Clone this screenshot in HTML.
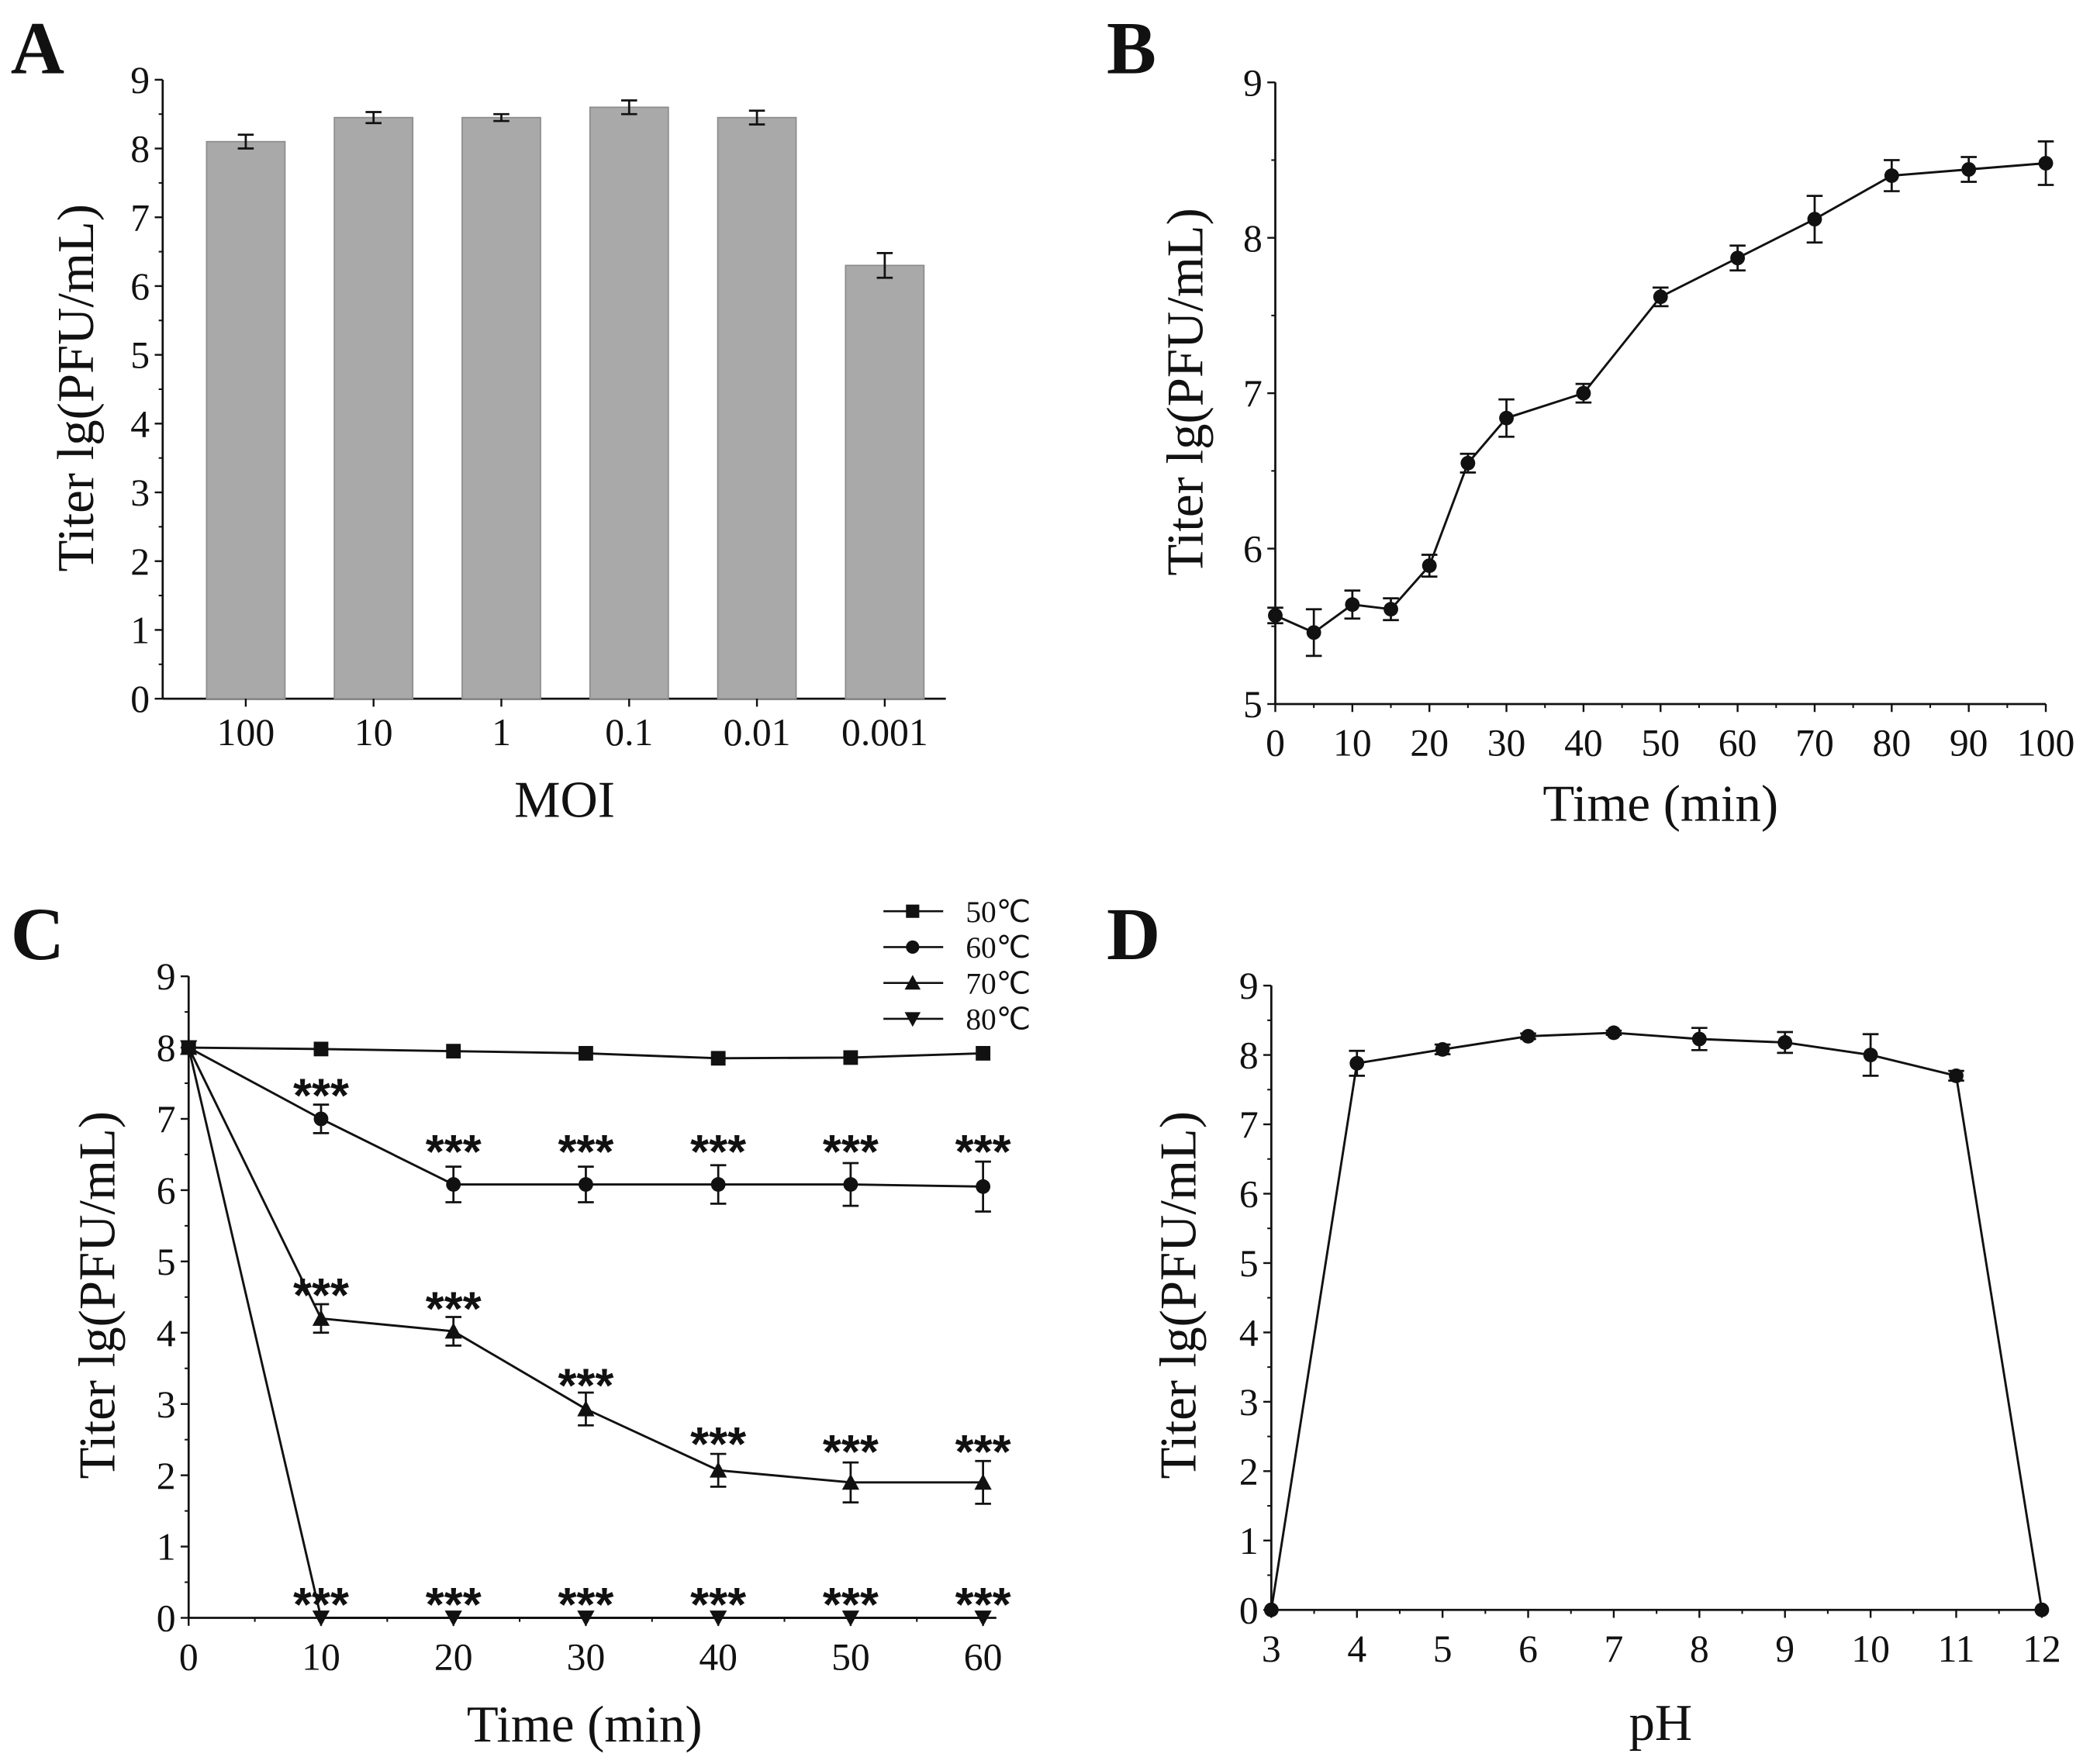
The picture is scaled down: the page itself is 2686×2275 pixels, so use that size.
<!DOCTYPE html>
<html><head><meta charset="utf-8"><style>
html,body{margin:0;padding:0;background:#fff}
svg{display:block}
text{font-family:"Liberation Serif","Times New Roman",serif;fill:#111}
text.star{font-family:"Liberation Sans",sans-serif;font-weight:bold}
</style></head><body>
<svg id="fig" width="2686" height="2275" viewBox="0 0 1568 1328" xmlns="http://www.w3.org/2000/svg">
<rect width="1568" height="1328" fill="#fff"/>
</svg>
<script>
// Panel A data
const aCats=["100","10","1","0.1","0.01","0.001"];
const aVals=[8.1,8.45,8.45,8.6,8.45,6.3];
const aErr=[0.1,0.08,0.05,0.1,0.1,0.18];
// Panel B data
const bX=[0,5,10,15,20,25,30,40,50,60,70,80,90,100];
const bVals=[5.57,5.46,5.64,5.61,5.89,6.55,6.84,7.0,7.62,7.87,8.12,8.4,8.44,8.48];
const bErr=[0.05,0.15,0.09,0.07,0.07,0.06,0.12,0.06,0.06,0.08,0.15,0.1,0.08,0.14];
// Panel C data
const cX=[0,10,20,30,40,50,60];
const c50=[8,7.98,7.95,7.92,7.85,7.86,7.92];
const c60=[8,7.0,6.08,6.08,6.08,6.08,6.05];
const c60Err=[0,0.2,0.25,0.25,0.27,0.3,0.35];
const c70=[8,4.2,4.02,2.93,2.07,1.9,1.9];
const c70Err=[0,0.2,0.2,0.23,0.23,0.28,0.3];
const c80=[8,0,0,0,0,0,0];
const c60Star=[null,7.42,6.63,6.63,6.63,6.63,6.63];
const c70Star=[null,4.62,4.43,3.35,2.53,2.42,2.42];
const c80Star=[null,0.28,0.28,0.28,0.28,0.28,0.28];
// Panel D data
const dX=[3,4,5,6,7,8,9,10,11,12];
const dVals=[0,7.88,8.08,8.27,8.32,8.23,8.18,8.0,7.7,0];
const dErr=[0,0.18,0.07,0.04,0.03,0.16,0.15,0.3,0.07,0];

const NS="http://www.w3.org/2000/svg";
const svg=document.getElementById('fig');
function el(tag,attrs,parent){const e=document.createElementNS(NS,tag);for(const k in attrs)e.setAttribute(k,attrs[k]);(parent||svg).appendChild(e);return e;}
function txt(s,x,y,size,attrs,parent){const t=el('text',Object.assign({x:x,y:y,'font-size':size,'text-anchor':'middle'},attrs||{}),parent);t.textContent=s;return t;}
function lin(x0,x1,p0,p1){return v=>p0+(v-x0)*(p1-p0)/(x1-x0);}

function axes(g,X,Y,cfg){
  el('line',{x1:X(cfg.xmin),y1:Y(cfg.ymin),x2:X(cfg.xmin),y2:Y(cfg.ymax),stroke:'#111','stroke-width':1.6},g);
  el('line',{x1:X(cfg.xmin),y1:Y(cfg.ymin),x2:cfg.xEnd,y2:Y(cfg.ymin),stroke:'#111','stroke-width':1.6},g);
  for(let v=cfg.ymin;v<=cfg.ymax+1e-9;v+=cfg.ystep){
    const t=el('line',{x1:X(cfg.xmin)-6,y1:Y(v),x2:X(cfg.xmin),y2:Y(v),stroke:'#111','stroke-width':1.4},g);
    
    
    const l=txt(String(v),X(cfg.xmin)-17,Y(v)+10,29,{},g);
    
    
    if(v+cfg.ystep/2<=cfg.ymax) el('line',{x1:X(cfg.xmin)-3,y1:Y(v+cfg.ystep/2),x2:X(cfg.xmin),y2:Y(v+cfg.ystep/2),stroke:'#111','stroke-width':1.2},g);
  }
  if(cfg.xticks){
    cfg.xticks.forEach((v,i)=>{
      el('line',{x1:X(v),y1:Y(cfg.ymin),x2:X(v),y2:Y(cfg.ymin)+6,stroke:'#111','stroke-width':1.4},g);
      const l=txt(String(v),X(v),Y(cfg.ymin)+39,29,{},g);
      
      
      if(i<cfg.xticks.length-1){const m=(v+cfg.xticks[i+1])/2;el('line',{x1:X(m),y1:Y(cfg.ymin),x2:X(m),y2:Y(cfg.ymin)+3,stroke:'#111','stroke-width':1.2},g);}
    });
  }
}
function errbar(g,x,y0,y1,w){
  el('line',{x1:x,y1:y0,x2:x,y2:y1,stroke:'#111','stroke-width':1.6},g);
  el('line',{x1:x-w,y1:y0,x2:x+w,y2:y0,stroke:'#111','stroke-width':1.6},g);
  el('line',{x1:x-w,y1:y1,x2:x+w,y2:y1,stroke:'#111','stroke-width':1.6},g);
}
function poly(g,xs,ys,X,Y,name){
  const p=el('polyline',{points:xs.map((x,i)=>X(x)+','+Y(ys[i])).join(' '),fill:'none',stroke:'#111','stroke-width':1.7},g);
  
  
}
function marker(g,type,x,y,s){
  s=s||5.5;
  if(type==='circle') return el('circle',{cx:x,cy:y,r:s,fill:'#111'},g);
  if(type==='square') return el('rect',{x:x-s,y:y-s,width:2*s,height:2*s,fill:'#111'},g);
  if(type==='up') return el('polygon',{points:`${x},${y-s-1} ${x-s-1},${y+s} ${x+s+1},${y+s}`,fill:'#111'},g);
  return el('polygon',{points:`${x},${y+s+1} ${x-s-1},${y-s} ${x+s+1},${y-s}`,fill:'#111'},g);
}
function ylabel(g,x,y){const t=txt('Titer lg(PFU/mL)',x,y,39,{transform:`rotate(-90 ${x} ${y})`},g);}
function letter(s,x,y,name){const t=txt(s,x,y,56,{'font-weight':'bold','text-anchor':'start'});}

// ---- Panel A
(function(){
  const g=el('g',{});  
  const X=i=>185+i*96.2, Y=lin(0,9,526,60);
  axes(g,X,Y,{xmin:-0.65,ymin:0,ymax:9,ystep:1,xEnd:712});
  aCats.forEach((c,i)=>{
    const b=el('rect',{x:X(i)-29.5,y:Y(aVals[i]),width:59,height:Y(0)-Y(aVals[i]),fill:'#a9a9a9',stroke:'#8c8c8c','stroke-width':1},g);
    
    
    errbar(g,X(i),Y(aVals[i]+aErr[i]),Y(aVals[i]-aErr[i]),6);
    el('line',{x1:X(i),y1:Y(0),x2:X(i),y2:Y(0)+6,stroke:'#111','stroke-width':1.4},g);
    const l=txt(c,X(i),Y(0)+35,29,{},g);
    
    
  });
  const xt=txt('MOI',425,615,39,{},g);  
  ylabel(g,70,292);
  letter('A',8,55,'panel-label-a');
})();

// ---- Panel B
(function(){
  const g=el('g',{});  
  const X=lin(0,100,960,1540), Y=lin(5,9,530,62);
  axes(g,X,Y,{xmin:0,ymin:5,ymax:9,ystep:1,xEnd:1540,xticks:[0,10,20,30,40,50,60,70,80,90,100]});
  poly(g,bX,bVals,X,Y,'growth-line');
  bX.forEach((x,i)=>{errbar(g,X(x),Y(bVals[i]+bErr[i]),Y(bVals[i]-bErr[i]),6);const m=marker(g,'circle',X(x),Y(bVals[i]));});
  const xt=txt('Time (min)',1250,618,39,{},g);  
  ylabel(g,905,295);
  letter('B',833,55,'panel-label-b');
})();

// ---- Panel C
(function(){
  const g=el('g',{});  
  const X=lin(0,60,142,740), Y=lin(0,9,1218,735);
  axes(g,X,Y,{xmin:0,ymin:0,ymax:9,ystep:1,xEnd:750,xticks:[0,10,20,30,40,50,60]});
  const series=[[c50,null,'square','50℃'],[c60,c60Err,'circle','60℃'],[c70,c70Err,'up','70℃'],[c80,null,'down','80℃']];
  series.forEach(([vals,err,mk,lab])=>{
    poly(g,cX,vals,X,Y,'line-'+lab.replace('℃','c'));
    cX.forEach((x,i)=>{
      if(err&&err[i]) errbar(g,X(x),Y(vals[i]+err[i]),Y(vals[i]-err[i]),6);
      const m=marker(g,mk,X(x),Y(vals[i]));
      
      
    });
  });
  [c60Star,c70Star,c80Star].forEach(arr=>arr.forEach((v,i)=>{
    if(v===null)return;
    const t=txt('***',X(cX[i]),Y(v)+17,36,{'class':'star'},g);
    
    
  }));
  const lg=el('g',{},g);  
  series.forEach(([v,e,mk,lab],i)=>{
    const y=686+i*27;
    el('line',{x1:665,y1:y,x2:710,y2:y,stroke:'#111','stroke-width':1.6},lg);
    marker(lg,mk,687,y,5);
    const t=txt(lab,727,y+8,23,{'text-anchor':'start'},lg);
    
    
  });
  const xt=txt('Time (min)',440,1311,39,{},g);  
  ylabel(g,86,975);
  letter('C',8,722,'panel-label-c');
})();

// ---- Panel D
(function(){
  const g=el('g',{});  
  const X=lin(3,12,957,1537), Y=lin(0,9,1212,742);
  axes(g,X,Y,{xmin:3,ymin:0,ymax:9,ystep:1,xEnd:1540,xticks:[3,4,5,6,7,8,9,10,11,12]});
  poly(g,dX,dVals,X,Y,'ph-line');
  dX.forEach((x,i)=>{if(dErr[i])errbar(g,X(x),Y(dVals[i]+dErr[i]),Y(dVals[i]-dErr[i]),6);const m=marker(g,'circle',X(x),Y(dVals[i]));});
  const xt=txt('pH',1250,1310,39,{},g);  
  ylabel(g,900,975);
  letter('D',833,722,'panel-label-d');
})();
</script>
</body></html>
